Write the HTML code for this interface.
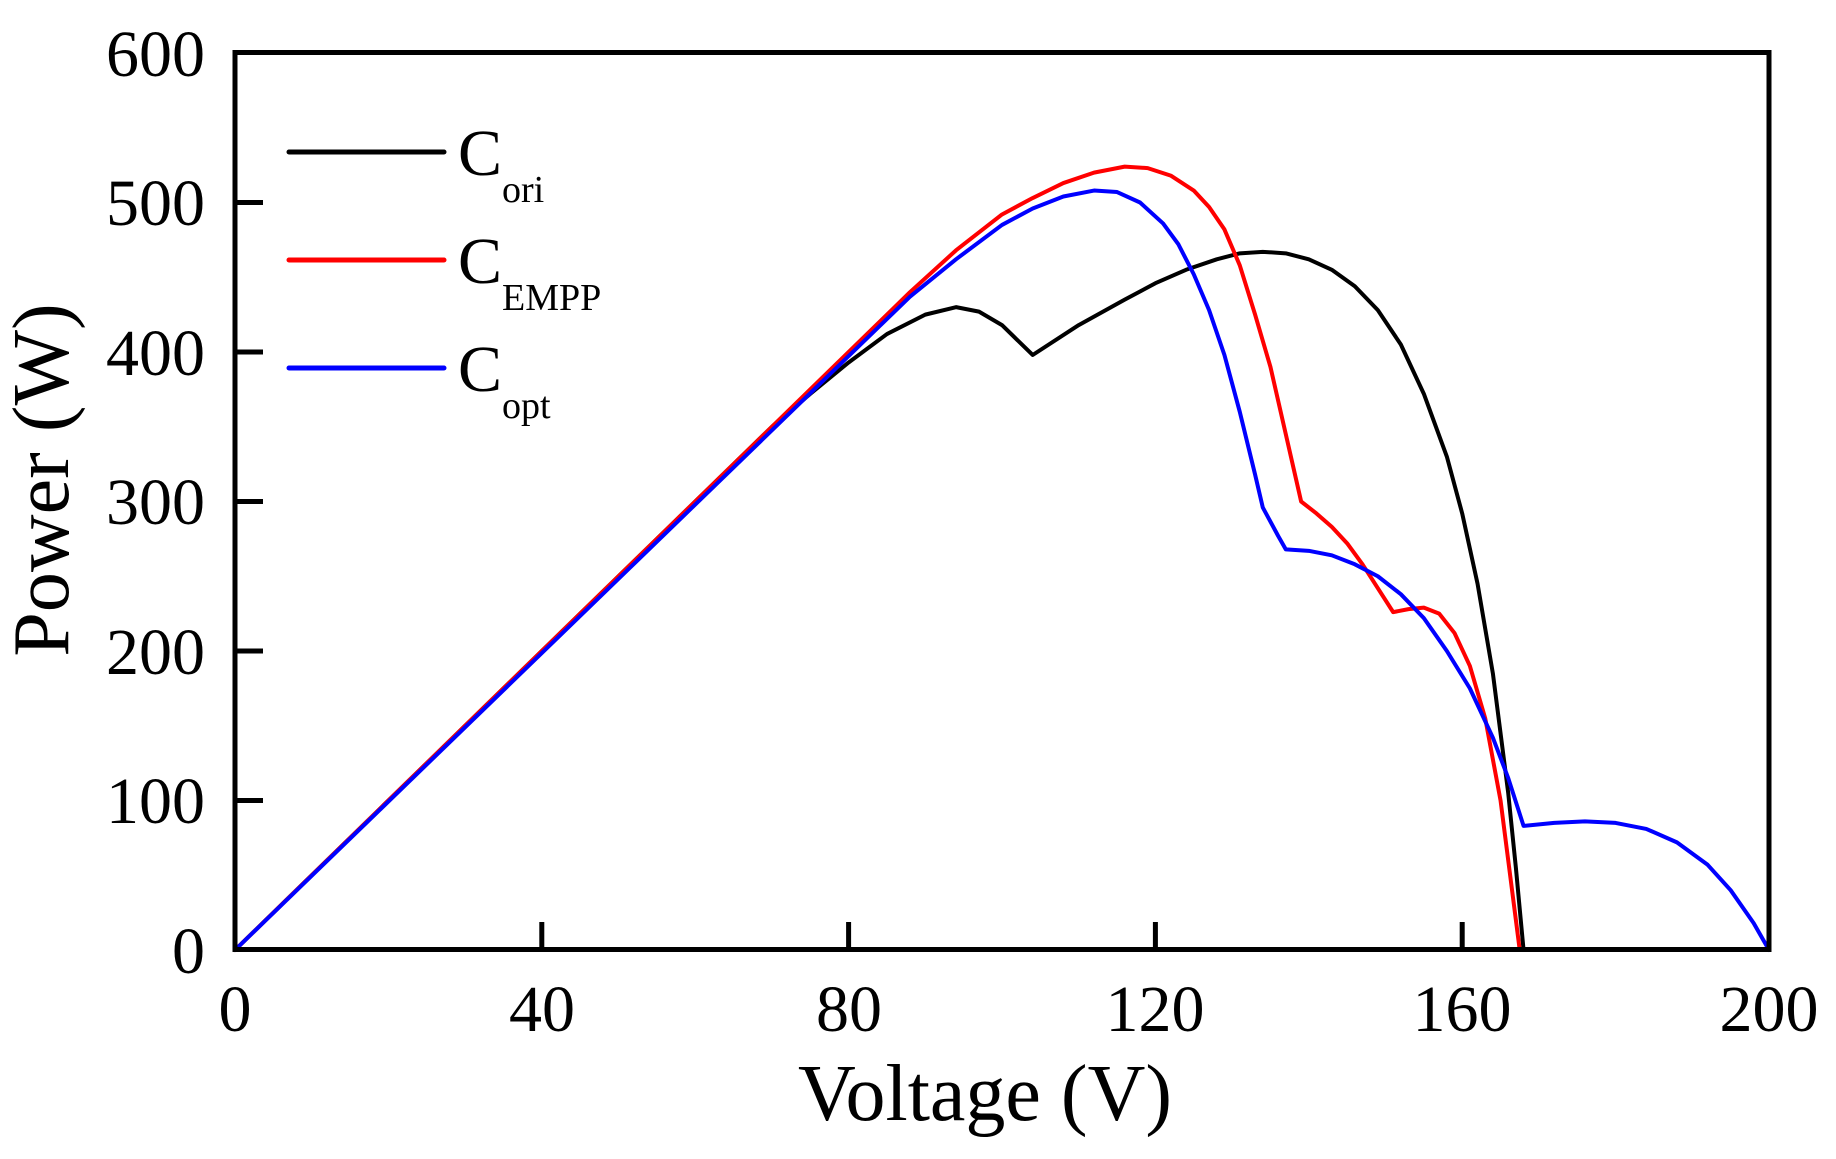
<!DOCTYPE html>
<html><head><meta charset="utf-8"><style>
html,body{margin:0;padding:0;background:#fff;}
svg text{font-family:"Liberation Serif",serif;fill:#000;}
</style></head><body>
<svg width="1836" height="1154" viewBox="0 0 1836 1154" xmlns="http://www.w3.org/2000/svg">
<rect width="1836" height="1154" fill="#fff"/>
<g transform="translate(235,950) scale(7.67,-1.495)" fill="none" stroke-linejoin="round" stroke-linecap="round">
<polyline vector-effect="non-scaling-stroke" stroke="#000" stroke-width="4" points="0,0 70,350 75,372 80,393 85,412 90,425 94,430 97,427 100,418 102,408 104,398 110,418 116,435 120,446 124,455 128,462 131,466 134,467 137,466 140,462 143,455 146,444 149,428 152,405 155,372 158,330 160,292 162,245 164,185 166,105 167,55 168,0"/>
<polyline vector-effect="non-scaling-stroke" stroke="#f00" stroke-width="4" points="0,0 88,440 94,468 100,492 104,503 108,513 112,520 116,524 119,523 122,518 125,508 127,497 129,482 131,458 133,425 135,390 137,345 139,300 141,292 143,283 145,272 147,258 149,242 151,226 153,228 155,229 157,225 159,212 161,190 163,155 165,100 166,60 167.5,0"/>
<polyline vector-effect="non-scaling-stroke" stroke="#00f" stroke-width="4" points="0,0 88,437 94,462 100,485 104,496 108,504 112,508 115,507 118,500 121,486 123,472 125,452 127,428 129,398 131,360 133,318 134,296 136,277 137,268 140,267 143,264 146,258 149,250 152,238 155,222 158,200 161,175 164,142 166,115 168,83 172,85 176,86 180,85 184,81 188,72 192,57 195,40 198,18 200,0"/>
</g>
<g stroke="#000" stroke-width="5" fill="none">
<rect x="235" y="52.5" width="1534" height="897"/>
<line x1="235" y1="800.5" x2="263" y2="800.5"/>
<line x1="235" y1="651" x2="263" y2="651"/>
<line x1="235" y1="501.5" x2="263" y2="501.5"/>
<line x1="235" y1="352" x2="263" y2="352"/>
<line x1="235" y1="202.5" x2="263" y2="202.5"/>
<line x1="541.8" y1="950" x2="541.8" y2="922"/>
<line x1="848.6" y1="950" x2="848.6" y2="922"/>
<line x1="1155.4" y1="950" x2="1155.4" y2="922"/>
<line x1="1462.2" y1="950" x2="1462.2" y2="922"/>
</g>
<g font-size="66" text-anchor="end">
<text x="205" y="973">0</text>
<text x="205" y="823">100</text>
<text x="205" y="674">200</text>
<text x="205" y="524">300</text>
<text x="205" y="375">400</text>
<text x="205" y="225">500</text>
<text x="205" y="76">600</text>
</g>
<g font-size="66" text-anchor="middle">
<text x="235" y="1031">0</text>
<text x="542" y="1031">40</text>
<text x="849" y="1031">80</text>
<text x="1155" y="1031">120</text>
<text x="1462" y="1031">160</text>
<text x="1769" y="1031">200</text>
</g>
<text x="985" y="1120" font-size="80" text-anchor="middle">Voltage (V)</text>
<text transform="translate(68,480) rotate(-90)" font-size="80" text-anchor="middle">Power (W)</text>
<g stroke-width="5" stroke-linecap="round">
<line x1="289" y1="152" x2="444" y2="152" stroke="#000"/>
<line x1="289" y1="260" x2="444" y2="260" stroke="#f00"/>
<line x1="289" y1="368" x2="444" y2="368" stroke="#00f"/>
</g>
<g font-size="66">
<text x="458" y="175">C<tspan font-size="38" dy="27">ori</tspan></text>
<text x="458" y="283">C<tspan font-size="38" dy="27">EMPP</tspan></text>
<text x="458" y="391">C<tspan font-size="38" dy="27">opt</tspan></text>
</g>
</svg>
</body></html>
